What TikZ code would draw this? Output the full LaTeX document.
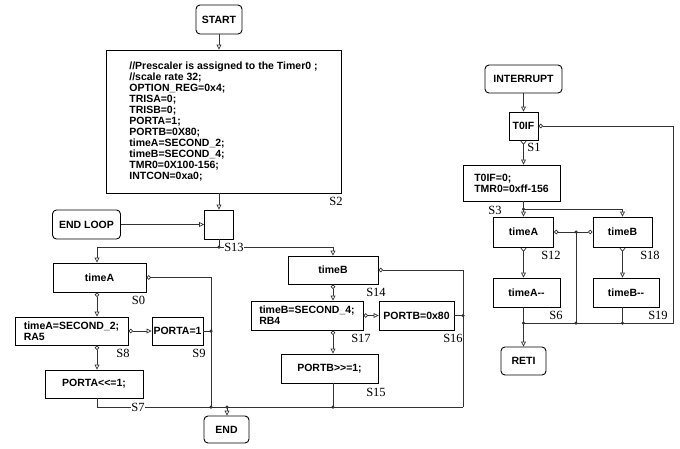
\documentclass[tikz,border=0pt]{standalone}
\usepackage{fontspec}
\setmainfont{Liberation Serif}
\setsansfont{Liberation Sans}
\usetikzlibrary{arrows.meta}
\definecolor{linegray}{gray}{0.2}
\newcommand{\boxfont}{\sffamily\bfseries\fontsize{10.5}{11}\selectfont}
\newcommand{\lblfont}{\rmfamily\fontsize{12.5}{13}\selectfont}

\begin{document}
\begin{tikzpicture}[x=1pt,y=-1pt,
  box/.style={draw,line width=0.9pt,font=\boxfont,inner sep=0pt,align=center},
  term/.style={box,rounded corners=4pt},
  lbl/.style={font=\lblfont,inner sep=0.5pt},
  dot/.style={circle,fill=linegray,inner sep=0pt,minimum size=3.5pt},
  link/.style={draw=linegray,line width=0.9pt},
  flow/.style={link,-{Triangle[open,fill=white,line width=0.7pt,length=5pt,width=5pt]}},
  noflow/.style={link,{Circle[open,fill=white,line width=0.7pt,length=4.5pt]}-{Triangle[open,fill=white,line width=0.7pt,length=5pt,width=5pt]}},
  nojoin/.style={link,{Circle[open,fill=white,line width=0.7pt,length=4.5pt]}-},
  yesflow/.style={link,{Straight Barb[reversed,line width=0.7pt,length=3.5pt,width=5.5pt]}-{Triangle[open,fill=white,line width=0.7pt,length=5pt,width=5pt]}}]
\useasboundingbox (0,0) rectangle (680,448);

% main program
\node[term,minimum width=46,minimum height=29] (start) at (219,19.5) {START};
\node[box,minimum width=235,minimum height=143,align=left] (init) at (223.5,121.5) {//Prescaler is assigned to the Timer0 ;\\
//scale rate 32;\\
OPTION\_REG=0x4;\\
TRISA=0;\\
TRISB=0;\\
PORTA=1;\\
PORTB=0X80;\\
timeA=SECOND\_2;\\
timeB=SECOND\_4;\\
TMR0=0X100-156;\\
INTCON=0xa0;};
\node[box,minimum width=29,minimum height=29] (loop) at (219,224.5) {};
\node[term,minimum width=68,minimum height=29] (endloop) at (86.5,224.5) {END LOOP};
\coordinate (s13) at (219,247);
\coordinate (colA) at (97,0);
\coordinate (jA) at (211,407);
\coordinate (jE) at (227,407);
\coordinate (jR) at (463,407);

\node[box,minimum width=93,minimum height=29] (tA) at (99.5,277.5) {timeA};
\node[box,minimum width=113,minimum height=28,align=left] (sA) at (71.5,331) {timeA=SECOND\_2;\\RA5};
\node[box,minimum width=51,minimum height=28] (pA) at (177.5,331) {PORTA=1};
\node[box,minimum width=98,minimum height=28] (shA) at (94,384) {PORTA<{}<=1;};
\node[term,minimum width=45,minimum height=27] (end) at (226.5,429.5) {END};

\node[box,minimum width=90,minimum height=28] (tB) at (333,270) {timeB};
\node[box,minimum width=112,minimum height=29,align=left] (sB) at (307,315.5) {timeB=SECOND\_4;\\RB4};
\node[box,minimum width=75,minimum height=29] (pB) at (416.5,315.5) {PORTB=0x80};
\node[box,minimum width=97,minimum height=29] (shB) at (329.5,368.5) {PORTB>{}>=1;};

\draw[flow] (start.south) -- (start.south |- init.north);
\draw[flow] (start.south |- init.south) -- (loop.north);
\draw[flow] (endloop) -- (loop);
\draw[link] (loop.south) -- (s13);
\draw[flow] (s13) -| (colA |- tA.north);
\draw[flow] (s13) -| (tB.north);

\draw[noflow] (colA |- tA.south) -- (colA |- sA.north);
\draw[nojoin] (tA.east) -| (jA);
\draw[noflow] (sA.east) -- (pA.west);
\draw[link] (pA.east) -- (pA.east -| jA);
\draw[noflow] (colA |- sA.south) -- (colA |- shA.north);
\draw[link] (colA |- shA.south) |- (jR);
\draw[flow] (jE) -- (jE |- end.north);

\draw[noflow] (tB.south) -- (tB.south |- sB.north);
\draw[nojoin] (tB.east) -| (jR);
\draw[noflow] (sB.east) -- (pB.west);
\draw[link] (pB.east) -- (pB.east -| jR);
\draw[noflow] (tB.south |- sB.south) -- (tB.south |- shB.north);
\draw[link] (tB.south |- shB.south) -- (tB.south |- jR);

\node[dot] at (s13) {};
\node[dot] at (pA.east -| jA) {};
\node[dot] at (jA) {};
\node[dot] at (jE) {};
\node[dot] at (tB.south |- jR) {};
\node[dot] at (pB.east -| jR) {};

\node[lbl] (l2) at (336,201) {S2};
\node[lbl,fill=white] (l13) at (234,247) {S13};
\node[lbl] (l0) at (138.5,300) {S0};
\node[lbl] (l8) at (123,353) {S8};
\node[lbl] (l9) at (199,353) {S9};
\node[lbl,fill=white] (l7) at (138,407) {S7};
\node[lbl] (l14) at (376,292) {S14};
\node[lbl] (l17) at (361,338) {S17};
\node[lbl] (l16) at (453,338) {S16};
\node[lbl] (l15) at (376,392) {S15};

% interrupt routine
\node[term,minimum width=77,minimum height=28] (intr) at (523.5,79) {INTERRUPT};
\node[box,minimum width=29,minimum height=28] (tf) at (523.5,126) {T0IF};
\node[box,minimum width=97,minimum height=36,align=left] (clr) at (511.5,183) {T0IF=0;\\TMR0=0xff-156};
\node[box,minimum width=60,minimum height=30] (rA) at (523.5,232) {timeA};
\node[box,minimum width=59,minimum height=30] (rB) at (622.5,232) {timeB};
\node[box,minimum width=67,minimum height=29] (rAm) at (526.5,292.5) {timeA-{}-};
\node[box,minimum width=66,minimum height=29] (rBm) at (626,292.5) {timeB-{}-};
\node[term,minimum width=45,minimum height=28] (reti) at (523.5,361) {RETI};
\coordinate (s3) at (523.5,209);
\coordinate (jM) at (576,232);
\coordinate (jX) at (673,323);
\coordinate (jL) at (523.5,323);

\draw[flow] (intr) -- (tf);
\draw[yesflow] (tf.south) -- (tf.south |- clr.north);
\draw[nojoin] (tf.east) -| (jX) -- (jL);
\draw[link] (tf.south |- clr.south) -- (s3);
\draw[flow] (s3) -- (rA);
\draw[flow] (s3) -| (rB.north);
\draw[yesflow] (rA.south) -- (rA.south |- rAm.north);
\draw[yesflow] (rB.south) -- (rB.south |- rBm.north);
\draw[nojoin] (rA.east) -- (jM);
\draw[nojoin] (rB.west) -- (jM);
\draw[link] (jM) -- (jM |- jL);
\draw[link] (rA.south |- rAm.south) -- (jL);
\draw[link] (rB.south |- rBm.south) -- (rB.south |- jL);
\draw[flow] (jL) -- (reti);

\node[dot] at (s3) {};
\node[dot] at (jM) {};
\node[dot] at (jL) {};
\node[dot] at (jM |- jL) {};
\node[dot] at (rB.south |- jL) {};

\node[lbl] (l1) at (534,147) {S1};
\node[lbl] (l3) at (495,210) {S3};
\node[lbl] (l12) at (551,255) {S12};
\node[lbl] (l18) at (650,255) {S18};
\node[lbl] (l6) at (556,315) {S6};
\node[lbl] (l19) at (658,315) {S19};
\end{tikzpicture}
\end{document}
